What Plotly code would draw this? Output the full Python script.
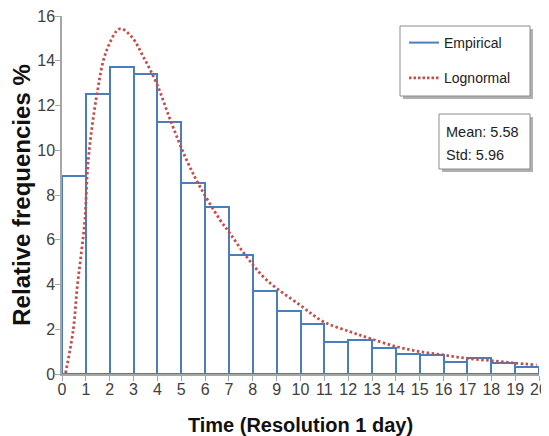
import plotly.graph_objects as go

# Data
bin_left = list(range(0, 20))
empirical = [8.85, 12.5, 13.7, 13.43, 11.25, 8.55, 7.48, 5.3, 3.7, 2.83,
             2.25, 1.43, 1.52, 1.14, 0.9, 0.85, 0.52, 0.71, 0.47, 0.31]
logn_x = [0.15, 0.47, 0.64, 0.82, 0.96, 1.1, 1.45, 1.87, 2.43, 2.92, 3.41, 3.97,
          4.6, 5.23, 5.79, 6.62, 7.04, 7.74, 8.58, 9.98, 10.96, 12.08, 12.91,
          14.03, 15.01, 15.99, 16.97, 17.95, 18.92, 19.9]
logn_y = [0.04, 1.96, 3.9, 5.5, 6.9, 9.55, 12.4, 14.46, 15.43, 15.07, 14.18, 12.98,
          11.19, 9.55, 8.36, 6.9, 6.29, 5.24, 4.2, 3.08, 2.34, 1.89, 1.59,
          1.22, 1.0, 0.85, 0.7, 0.6, 0.5, 0.4]
x_ticks = list(range(0, 21))
y_ticks = [0, 2, 4, 6, 8, 10, 12, 14, 16]
mean_val = 5.58
std_val = 5.96

BLUE = "#4a7ebb"
RED = "#c0504d"
FONT = "Liberation Sans, Arial, sans-serif"

OFF = 8  # page body margin
W, H = 549 - OFF, 436 - OFF
L, T = 62 - OFF, 16 - OFF
R = W - (539 - OFF)
B = H - (374 - OFF)
PW, PH = W - L - R, H - T - B

def px_x(p):  # reference-picture pixel -> paper
    return (p - OFF - L) / PW

def px_y(p):
    return (H - B - (p - OFF)) / PH

fig = go.Figure()
fig.add_trace(go.Bar(
    x=[b + 0.5 for b in bin_left], y=empirical, width=1,
    marker=dict(color="white", line=dict(color=BLUE, width=2)),
    showlegend=False, name="Empirical"))
fig.add_trace(go.Scatter(
    x=logn_x, y=logn_y, mode="lines", line_shape="spline",
    line=dict(color=RED, width=2.8, dash="2.5px,2.5px"),
    showlegend=False, name="Lognormal"))
# legend entries
fig.add_trace(go.Scatter(x=[None], y=[None], mode="lines", name="Empirical",
                         line=dict(color=BLUE, width=2), legendgroup="a"))
fig.add_trace(go.Scatter(x=[None], y=[None], mode="lines", name="Lognormal",
                         line=dict(color=RED, width=2.8, dash="2.5px,2px"), legendgroup="b"))

shapes = []
def box(x0, y0, x1, y1):
    shapes.append(dict(type="rect", xref="paper", yref="paper",
                       x0=px_x(x0 + 3), x1=px_x(x1 + 3), y0=px_y(y0 + 3), y1=px_y(y1 + 3),
                       fillcolor="#b0b0b0", line=dict(width=0), layer="above"))
    shapes.append(dict(type="rect", xref="paper", yref="paper",
                       x0=px_x(x0), x1=px_x(x1), y0=px_y(y0), y1=px_y(y1),
                       fillcolor="white", line=dict(color="#8c8c8c", width=1), layer="above"))

box(400, 26, 530, 96)
box(439, 114, 530, 169)

fig.add_annotation(xref="paper", yref="paper", x=px_x(444), y=px_y(132),
                   xanchor="left", yanchor="middle", showarrow=False,
                   text=f"Mean: {mean_val:.2f}",
                   font=dict(family=FONT, size=14.5, color="#222"))
fig.add_annotation(xref="paper", yref="paper", x=px_x(444), y=px_y(155),
                   xanchor="left", yanchor="middle", showarrow=False,
                   text=f"Std: {std_val:.2f}",
                   font=dict(family=FONT, size=14.5, color="#222"))

fig.update_layout(
    width=W, height=H, margin=dict(l=L, r=R, t=T, b=B),
    plot_bgcolor="white", paper_bgcolor="white",
    bargap=0, shapes=shapes,
    font=dict(family=FONT, color="#333"),
    legend=dict(x=px_x(404), y=px_y(27), xanchor="left", yanchor="top",
                bgcolor="rgba(0,0,0,0)", borderwidth=0, tracegroupgap=14,
                font=dict(family=FONT, size=14, color="#222")),
    xaxis=dict(range=[0, 20], tickvals=x_ticks, showgrid=False, zeroline=False,
               showline=True, linecolor="#a6a6a6", linewidth=1.5, automargin=False,
               ticks="outside", ticklen=5, tickcolor="#a6a6a6", ticklabelstandoff=-5,
               ticklabeloverflow="allow",
               tickfont=dict(family=FONT, size=16, color="#404040"),
               title=dict(text="<b>Time (Resolution 1 day)</b>", standoff=21,
                          font=dict(family=FONT, size=20, color="#111"))),
    yaxis=dict(range=[0, 16], tickvals=y_ticks, showgrid=False, zeroline=False,
               showline=True, linecolor="#a6a6a6", linewidth=1.5, automargin=False,
               ticks="outside", ticklen=5, tickcolor="#a6a6a6", ticklabelstandoff=-3,
               ticklabeloverflow="allow",
               tickfont=dict(family=FONT, size=16, color="#404040"),
               title=dict(text="<b>Relative frequencies %</b>", standoff=2,
                          font=dict(family=FONT, size=24, color="#111"))),
)

fig.write_html("out.html")
